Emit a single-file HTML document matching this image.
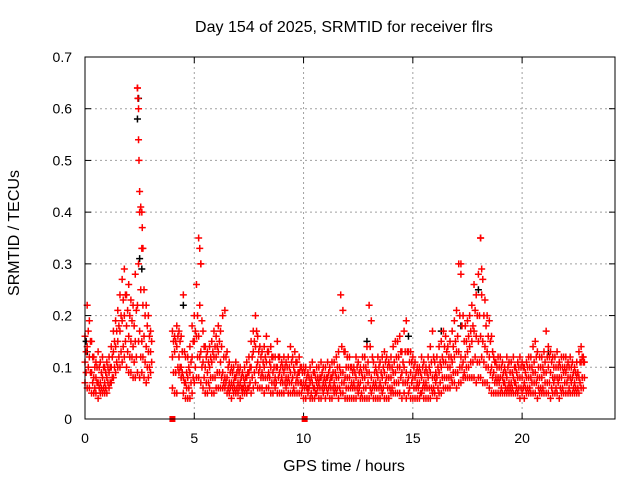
<!DOCTYPE html>
<html><head><meta charset="utf-8"><style>
body{margin:0;background:#fff}
svg{display:block;font-family:"Liberation Sans",sans-serif}
</style></head><body>
<svg id="chart" width="640" height="480">
<rect width="640" height="480" fill="#fff"/>
<text x="344" y="32" font-size="16" text-anchor="middle">Day 154 of 2025, SRMTID for receiver flrs</text>
<text x="344" y="471" font-size="16" text-anchor="middle">GPS time / hours</text>
<text transform="translate(19,233) rotate(-90)" font-size="16" text-anchor="middle">SRMTID / TECUs</text>
<g id="grid"></g>
<g id="axes"></g>
<g id="marks"></g>
<rect x="85" y="57" width="530" height="362" fill="none" stroke="#000" stroke-width="1"/>
</svg>
<script>
const xTicks=[0,5,10,15,20];
const yTicks=[0,0.1,0.2,0.3,0.4,0.5,0.6,0.7];
const yTickLabels=["0","0.1","0.2","0.3","0.4","0.5","0.6","0.7"];
const tStep=0.1;
const N=null;
// values in hundredths of TECU, one per 0.1 h
const loVals=[7,6,6,5,5,5,4,5,5,5, 5,6,7,8,9,10,10,11,12,10, 9,9,8,8,9,8,9,8,7,8, 9,N,N,N,N,N,N,N,N,N,
6,5,5,9,8,5,4,4,4,5, 7,8,8,7,6,5,5,6,5,5, 6,6,6,6,6,5,5,4,5,5, 5,4,5,5,5,6,5,6,7,6, 6,6,5,6,6,5,5,6,5,5, 5,5,6,5,5,5,5,5,5,5,
4,4,5,4,4,4,5,4,4,5, 4,5,4,4,5,5,4,5,5,4, 4,4,4,4,4,5,4,4,4,4, 4,5,4,4,4,4,5,4,4,4, 5,5,5,5,5,4,5,4,5,4, 4,4,4,4,5,4,4,4,4,5,
5,4,5,5,6,6,6,6,7,7, 6,7,7,8,8,8,8,8,8,7, 8,8,7,7,7,6,5,5,5,5, 5,5,5,5,5,5,5,5,5,4, 5,4,5,5,5,5,5,4,5,5, 5,5,5,4,5,5,5,4,5,5, 5,5,5,5,5,5,5,6,6];
const q1Vals=[9,10,9,7,6,7,6,6,6,6, 7,7,8,10,11,12,13,14,15,13, 12,12,11,12,15,12,12,11,10,10, 11,N,N,N,N,N,N,N,N,N,
9,9,10,10,9,7,6,6,7,8, 10,12,12,10,8,7,7,8,8,8, 9,9,8,7,7,6,6,6,6,6, 6,6,6,6,6,7,8,9,10,9, 8,8,8,8,8,7,7,7,8,7, 7,7,7,7,7,6,7,7,7,6,
6,6,6,5,6,5,6,6,6,6, 6,6,6,6,6,6,6,7,7,6, 6,6,6,6,6,6,5,6,6,7, 6,6,6,6,6,6,6,7,6,6, 6,7,7,7,8,7,7,7,6,7, 6,6,6,5,6,6,6,6,6,6,
7,6,7,8,8,8,8,8,9,9, 9,10,10,9,10,10,11,11,12,11, 11,12,11,10,10,9,8,7,7,7, 6,7,6,6,6,6,7,6,6,6, 6,6,6,6,7,7,7,6,6,6, 7,7,7,6,7,6,7,6,6,7, 7,6,7,6,6,6,7,8,8];
const midVals=[11,14,12,9,8,8,7,7,8,7, 8,9,10,13,14,15,17,19,20,18, 16,15,14,15,22,17,15,16,14,13, 13,N,N,N,N,N,N,N,N,N,
12,13,14,12,10,8,7,8,9,12, 15,16,16,13,11,10,9,10,11,12, 12,13,11,9,8,8,7,7,7,8, 7,7,6,7,8,9,10,13,14,11, 10,9,10,11,9,10,9,8,10,9, 8,9,8,8,9,8,9,8,9,7,
7,7,6,7,7,6,7,7,8,7, 7,8,7,8,7,8,8,9,9,8, 8,8,7,7,8,7,7,8,8,9, 9,8,7,7,8,7,8,9,8,8, 8,9,9,10,10,9,10,9,8,9, 8,8,7,7,8,7,7,8,9,8,
8,8,9,10,11,11,10,10,11,12, 13,13,12,11,12,13,14,15,17,16, 15,16,15,14,13,12,10,9,8,8, 8,8,7,8,7,7,8,7,8,8, 8,7,8,8,8,9,9,8,8,8, 9,9,10,9,8,8,8,8,8,9, 9,8,8,8,7,8,8,11,11];
const q3Vals=[13,17,15,12,10,10,10,9,10,9, 10,10,12,15,17,18,20,23,24,21, 20,19,18,21,30,25,22,20,18,16, 15,N,N,N,N,N,N,N,N,N,
15,15,16,15,13,13,9,10,11,15, 17,20,22,19,14,12,11,12,13,14, 14,15,14,12,12,10,9,9,8,9, 9,8,8,8,9,10,12,15,17,13, 12,11,12,13,11,12,10,10,12,10, 10,10,10,10,11,10,11,9,10,9,
9,8,8,8,9,8,8,8,9,8, 8,9,8,9,9,10,10,14,13,10, 10,10,9,9,10,9,9,10,10,11, 14,12,9,9,10,9,10,11,10,10, 10,11,12,12,13,11,13,13,11,11, 10,9,9,9,10,9,9,10,11,12,
9,10,11,12,14,13,12,12,14,15, 16,20,18,15,15,16,17,18,21,20, 20,24,20,18,16,15,13,11,10,10, 10,9,9,10,9,9,10,9,10,10, 10,9,10,10,10,11,12,10,10,10, 11,12,12,11,10,10,10,10,10,10, 10,10,10,9,9,9,11,12,11];
const hiVals=[16,22,19,15,12,11,13,11,12,10, 11,12,14,17,19,21,24,27,29,24, 26,23,22,28,64,40,33,25,22,20, 17,N,N,N,N,N,N,N,N,N,
17,16,18,17,16,24,12,12,14,18, 20,26,35,30,17,14,13,14,15,17, 16,18,17,20,21,13,11,10,10,11, 10,10,9,10,11,12,15,17,20,16, 14,13,14,16,13,14,12,12,15,12, 11,12,11,12,14,12,13,11,12,10,
10,10,9,10,11,9,10,10,11,10, 10,11,10,11,11,12,13,24,21,13, 12,12,10,10,12,11,10,12,12,14, 22,19,11,10,12,11,12,13,12,11, 12,14,15,15,16,13,17,19,13,13, 12,11,10,10,12,11,10,12,14,17,
11,12,14,15,17,16,14,15,17,19, 21,30,28,20,18,19,20,22,26,24, 28,35,27,23,20,19,16,12,11,12, 12,11,10,12,11,11,12,10,11,12, 11,10,11,12,12,14,15,13,12,12, 13,17,14,13,12,12,13,11,12,12, 12,11,12,11,10,11,13,14,12];
const spikeT=[2.4,2.42,2.45,2.45,2.47,2.5,2.55,2.6,2.62,2.65,5.25,5.3,17.2,18.1,18.15];
const spikeV=[0.64,0.62,0.6,0.54,0.5,0.44,0.41,0.4,0.37,0.33,0.33,0.3,0.3,0.35,0.29];
const blackT=[0.05,0.1,2.4,2.45,2.5,2.6,4.5,12.9,16.3,17.2,18.0,21.2,14.8];
const blackV=[0.15,0.13,0.58,0.62,0.31,0.29,0.22,0.15,0.17,0.18,0.25,0.13,0.16];
const zeroT=[4.0,10.05];

const X0=85,X1=615,Y0=419,Y1=57,XMAX=24.25,YMAX=0.7;
const xs=t=>X0+t/XMAX*(X1-X0);
const ys=v=>Y0-v/YMAX*(Y0-Y1);
const NS="http://www.w3.org/2000/svg";
const grid=document.getElementById('grid'),axes=document.getElementById('axes'),marks=document.getElementById('marks');
function mk(tag,attrs,parent){const e=document.createElementNS(NS,tag);for(const k in attrs)e.setAttribute(k,attrs[k]);parent.appendChild(e);return e;}
xTicks.forEach(t=>{const x=xs(t);
 if(t>0){const g=mk('line',{x1:x,x2:x,y1:Y0,y2:Y1,stroke:'#a0a0a0','stroke-dasharray':'2,3'},grid);
 
 }
 const a=mk('line',{x1:x,x2:x,y1:Y0,y2:Y0-6,stroke:'#000'},axes);
 
 
 const b=mk('line',{x1:x,x2:x,y1:Y1,y2:Y1+6,stroke:'#000'},axes);
 
 
 const l=mk('text',{x:x,y:443,'font-size':14,'text-anchor':'middle'},axes);l.textContent=t;
 
 
});
yTicks.forEach((v,i)=>{const y=ys(v);
 if(i>0&&i<yTicks.length-1){const g=mk('line',{x1:X0,x2:X1,y1:y,y2:y,stroke:'#a0a0a0','stroke-dasharray':'2,3'},grid);
 
 }
 const a=mk('line',{x1:X0,x2:X0+6,y1:y,y2:y,stroke:'#000'},axes);
 
 
 const b=mk('line',{x1:X1,x2:X1-6,y1:y,y2:y,stroke:'#000'},axes);
 
 
 const l=mk('text',{x:72,y:y+5,'font-size':14,'text-anchor':'end'},axes);l.textContent=yTickLabels[i];
 
 
});
function plus(t,v,col,name){const x=xs(t),y=ys(v);
 const p=mk('path',{d:`M${x-3.5},${y}H${x+3.5}M${x},${y-3.5}V${y+3.5}`,stroke:col,'stroke-width':1.5,fill:'none'},marks);
 
 }
blackT.forEach((t,i)=>plus(t,blackV[i],'#000','black-point'));
[loVals,midVals,hiVals].forEach(arr=>arr.forEach((v,i)=>{if(v!==null)plus(i*tStep,v/100,'#f00','red-point');}));
[q1Vals,q3Vals].forEach(arr=>arr.forEach((v,i)=>{if(v!==null)plus(i*tStep+0.05,v/100,'#f00','red-point');}));
spikeT.forEach((t,i)=>plus(t,spikeV[i],'#f00','red-spike-point'));
zeroT.forEach(t=>{const r=mk('rect',{x:xs(t)-3,y:Y0-3,width:6,height:6,fill:'#f00'},marks);
 
 });
</script>
</body></html>
